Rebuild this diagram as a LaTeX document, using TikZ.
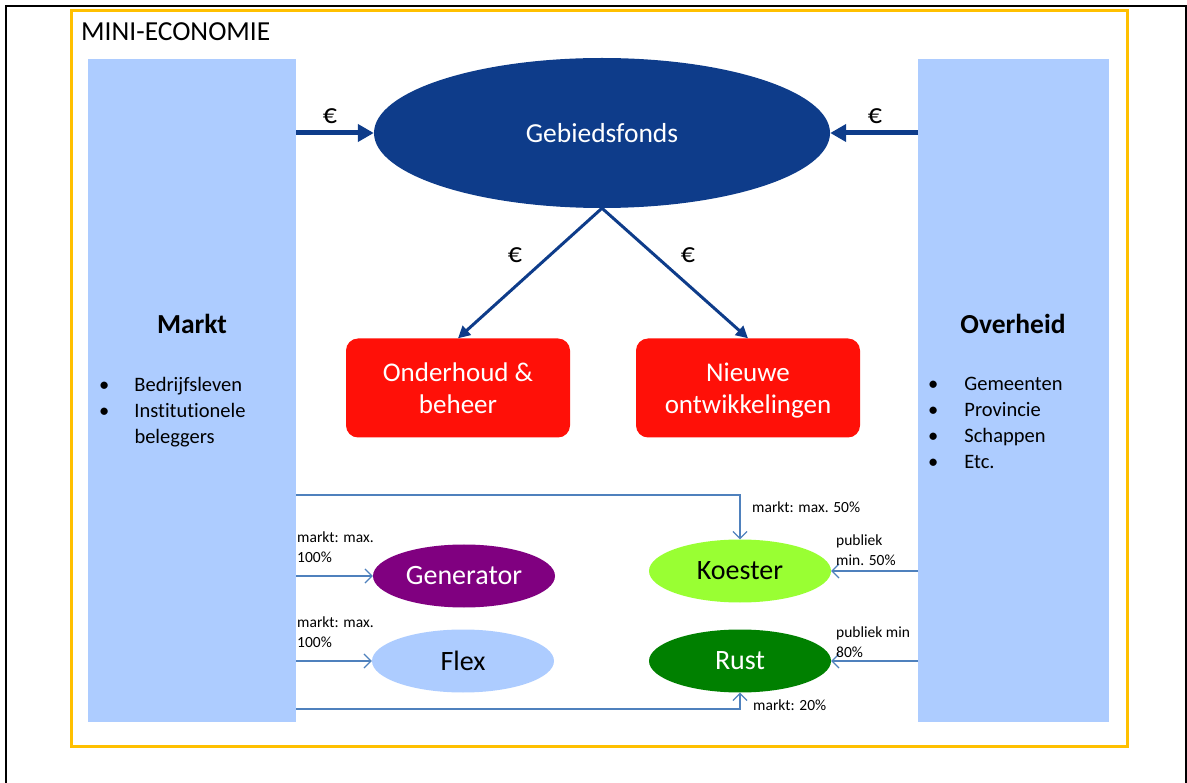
\documentclass[tikz,border=0pt]{standalone}
\usepackage{fontspec}
\setmainfont[Ligatures=NoCommon]{Carlito}
\usetikzlibrary{arrows.meta,shapes.geometric}
\definecolor{boxblue}{RGB}{173,204,255}
\definecolor{navy}{RGB}{14,60,138}
\definecolor{redbox}{RGB}{255,16,8}
\definecolor{thinblue}{RGB}{79,129,189}
\definecolor{goldline}{RGB}{255,192,0}
\definecolor{lime}{RGB}{153,255,51}
\definecolor{dgreen}{RGB}{0,128,0}
\definecolor{purp}{RGB}{128,0,128}
\tikzset{
  sidebox/.style={fill=boxblue,draw=none,anchor=north west,inner sep=0pt},
  redrect/.style={fill=redbox,draw=none,rounded corners=12pt,minimum width=224pt,minimum height=99pt,inner sep=0pt},
  redtext/.style={text=white,align=center,font=\fontsize{27}{32}\selectfont,inner sep=0pt},
  oval/.style={ellipse,draw=none,minimum width=182pt,minimum height=63pt,inner sep=0pt,font=\fontsize{28}{32}\selectfont},
  bigarrow/.style={draw=navy,line width=5pt,-{Triangle[length=16pt,width=17pt]}},
  diagarrow/.style={draw=navy,line width=3pt,-{Triangle[length=12pt,width=12pt]}},
  thinarrow/.style={draw=thinblue,line width=1.2pt,-{Straight Barb[length=7pt,width=14pt,line width=1.2pt]}},
  euro/.style={font=\fontsize{28}{30}\selectfont,inner sep=0pt},
  small/.style={font=\fontsize{15.5}{20}\selectfont,align=left,anchor=west,inner sep=0pt},
  blist/.style={font=\fontsize{20.5}{26}\selectfont,align=left,anchor=north west,inner sep=0pt}
}
\begin{document}
\begin{tikzpicture}[x=1pt,y=-1pt]
\useasboundingbox (0,0) rectangle (1187,783);
% outer black frame
\draw[line width=2pt] (6,783) -- (6,6) -- (1186,6) -- (1186,783);
% gold frame
\node[draw=goldline,line width=3pt,minimum width=1056pt,minimum height=736pt,anchor=north west,inner sep=0pt] (frame) at (70,9) {};
\node[font=\fontsize{27.5}{30}\selectfont,anchor=west,inner sep=0pt] (title) at (81,32) {MINI-ECONOMIE};
% side boxes
\node[sidebox,minimum width=208pt,minimum height=663pt] (markt) at (88,59) {};
\node[sidebox,minimum width=191pt,minimum height=663pt] (overheid) at (918,59) {};
\node[font=\bfseries\fontsize{27.5}{30}\selectfont,inner sep=0pt] (marktlbl) at (192,324) {Markt};
\node[font=\bfseries\fontsize{27.5}{30}\selectfont,inner sep=0pt] (overlbl) at (1013,324) {Overheid};
\node[blist] (mlist) at (99,377) {\textbullet\hspace{25pt}Bedrijfsleven\\\textbullet\hspace{25pt}Institutionele\\\hspace{35.3pt}beleggers};
\node[blist] (olist) at (928,377) {\textbullet\hspace{26pt}Gemeenten\\\textbullet\hspace{26pt}Provincie\\\textbullet\hspace{26pt}Schappen\\\textbullet\hspace{26pt}Etc.};
% gebiedsfonds
\node[ellipse,fill=navy,minimum width=456pt,minimum height=150pt,inner sep=0pt,text=white,font=\fontsize{27.5}{30}\selectfont] (fonds) at (602,133) {Gebiedsfonds};
% red boxes
\node[redrect] (onderhoud) at (458,388) {};
\node[redrect] (nieuw) at (748,388) {};
\node[redtext] (ondertxt) at (458,391) {\strut Onderhoud \&\\\strut beheer};
\node[redtext] (nieuwtxt) at (748,391) {\strut Nieuwe\\\strut ontwikkelingen};
% top arrows
\draw[bigarrow] (markt.east |- fonds.west) -- (fonds.west);
\draw[bigarrow] (overheid.west |- fonds.east) -- (fonds.east);
\node[euro] (e1) at (330,116) {€};
\node[euro] (e2) at (875,116) {€};
\draw[diagarrow] (fonds.south) -- (onderhoud.north);
\draw[diagarrow] (fonds.south) -- (nieuw.north);
\node[euro] (e3) at (515,255) {€};
\node[euro] (e4) at (688,255) {€};
% small ellipses
\node[oval,fill=purp,text=white] (gen) at (464,576) {Generator};
\node[oval,fill=boxblue] (flex) at (463,661) {Flex};
\node[oval,fill=lime] (koester) at (740,571) {Koester};
\node[oval,fill=dgreen,text=white] (rust) at (740,661) {Rust};
% thin connectors
\coordinate (ktop) at (296,495);
\coordinate (rbot) at (296,709);
\draw[thinarrow] (ktop) -| (koester.north);
\draw[thinarrow] (rbot) -| (rust.south);
\draw[thinarrow] (markt.east |- gen.west) -- (gen.west);
\draw[thinarrow] (markt.east |- flex.west) -- (flex.west);
\draw[thinarrow] (overheid.west |- koester.east) -- (koester.east);
\draw[thinarrow] (overheid.west |- rust.east) -- (rust.east);
% labels
\node[small] (l1) at (752,507) {markt: max. 50\%};
\node[small] (l2) at (297,547) {markt: max.\\100\%};
\node[small] (l3) at (297,632) {markt: max.\\100\%};
\node[small] (l4) at (836,550) {publiek\\min. 50\%};
\node[small] (l5) at (836,642) {publiek min\\80\%};
\node[small] (l6) at (753,705) {markt: 20\%};
\end{tikzpicture}
\end{document}
